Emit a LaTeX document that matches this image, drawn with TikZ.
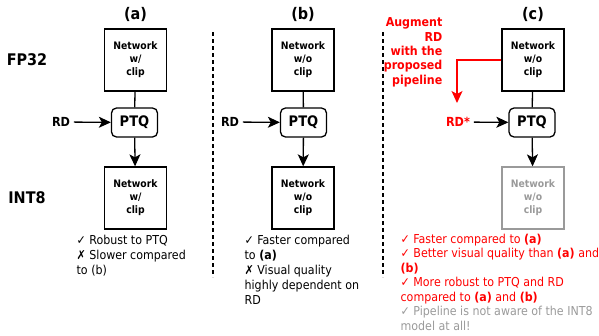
\documentclass[tikz,border=0pt]{standalone}
\usepackage{fontspec}
\setmainfont{DejaVu Sans Condensed}
\usetikzlibrary{arrows.meta}
\definecolor{augred}{HTML}{FF0000}
\definecolor{ghost}{HTML}{9A9A9A}
\begin{document}
\begin{tikzpicture}[x=1pt,y=-1pt,line width=1.3pt,>={Stealth[length=12pt,width=11pt,inset=3pt]}]
      \tikzstyle{net}=[draw, minimum width=62pt, minimum height=62pt, inner sep=0pt, align=center, font=\bfseries\fontsize{10.3}{13}\selectfont]
      \tikzstyle{ptq}=[draw, rounded corners=5pt, minimum width=46pt, minimum height=29pt, inner sep=0pt, font=\bfseries\fontsize{14.5}{15}\selectfont]
      \tikzstyle{title}=[font=\bfseries\fontsize{16}{17}\selectfont]
      \tikzstyle{inp}=[font=\bfseries\fontsize{12.5}{13}\selectfont]
      \tikzstyle{note}=[anchor=north west, align=left, inner sep=0pt, font=\fontsize{12.3}{15}\selectfont]
      \useasboundingbox (0,0) rectangle (599,335);

      % precision labels
      \node[title] (fp32) at (27,60) {FP32};
      \node[title] (int8) at (27,198) {INT8};

      % column titles
      \foreach \name/\x in {a/135.5, b/303, c/533}
        \node[title] (T-\name) at (\x,14) {(\name)};

      % networks
      \node[net] (N-a) at (135.5,60) {Network\\w/\\clip};
      \node[net] (Q-a) at (135.5,198) {Network\\w/\\clip};
      \node[net] (N-b) at (303,60) {Network\\w/o\\clip};
      \node[net] (Q-b) at (303,198) {Network\\w/o\\clip};
      \node[net] (N-c) at (533,60) {Network\\w/o\\clip};
      \node[net, draw=ghost, text=ghost] (Q-c) at (533,198) {Network\\w/o\\clip};

      % quantisation
      \foreach \name/\x in {a/134.5, b/303.5, c/532}
        \node[ptq] (P-\name) at (\x,122.5) {PTQ};

      % calibration data
      \node[inp] (R-a) at (61,122) {RD};
      \node[inp] (R-b) at (230,122) {RD};
      \node[inp, text=augred] (R-c) at (458,122) {RD*};

      \foreach \name in {a, b, c} {
        \draw (N-\name) -- (P-\name);
        \draw[->] (P-\name) -- (Q-\name);
        \draw[->] (R-\name) -- (P-\name);
      }

      % separators
      \coordinate (s1t) at (213,32); \coordinate (s1b) at (213,277);
      \coordinate (s2t) at (383,32); \coordinate (s2b) at (383,277);
      \draw[dashed, dash pattern=on 4pt off 3pt] (s1t) -- (s1b);
      \draw[dashed, dash pattern=on 4pt off 3pt] (s2t) -- (s2b);

      % augmentation
      \node[inp, text=augred, anchor=north east, align=right, inner sep=0pt, font=\bfseries\fontsize{12.3}{14.4}\selectfont] (aug) at (443,17) {Augment\\RD\\with the\\proposed\\pipeline};
      \coordinate (bend) at (457,60);
      \coordinate (augend) at (457,103);
      \draw[->, augred] (N-c.west |- bend) -- (bend) -- (augend);

      % notes
      \node[note] (notes-a) at (76,234) {✓ Robust to PTQ\\✗ Slower compared\\to (b)};
      \node[note] (notes-b) at (244,234) {✓ Faster compared\\to \textbf{(a)}\\✗ Visual quality\\highly dependent on\\RD};
      \node[note, text=augred, font=\fontsize{12.3}{14.5}\selectfont] (notes-c) at (400,233) {✓ Faster compared to \textbf{(a)}\\✓ Better visual quality than \textbf{(a)} and\\\textbf{(b)}\\✓ More robust to PTQ and RD\\compared to \textbf{(a)} and \textbf{(b)}\\\textcolor{ghost}{✓ Pipeline is not aware of the INT8}\\\textcolor{ghost}{model at all!}};
    \end{tikzpicture}
\end{document}
